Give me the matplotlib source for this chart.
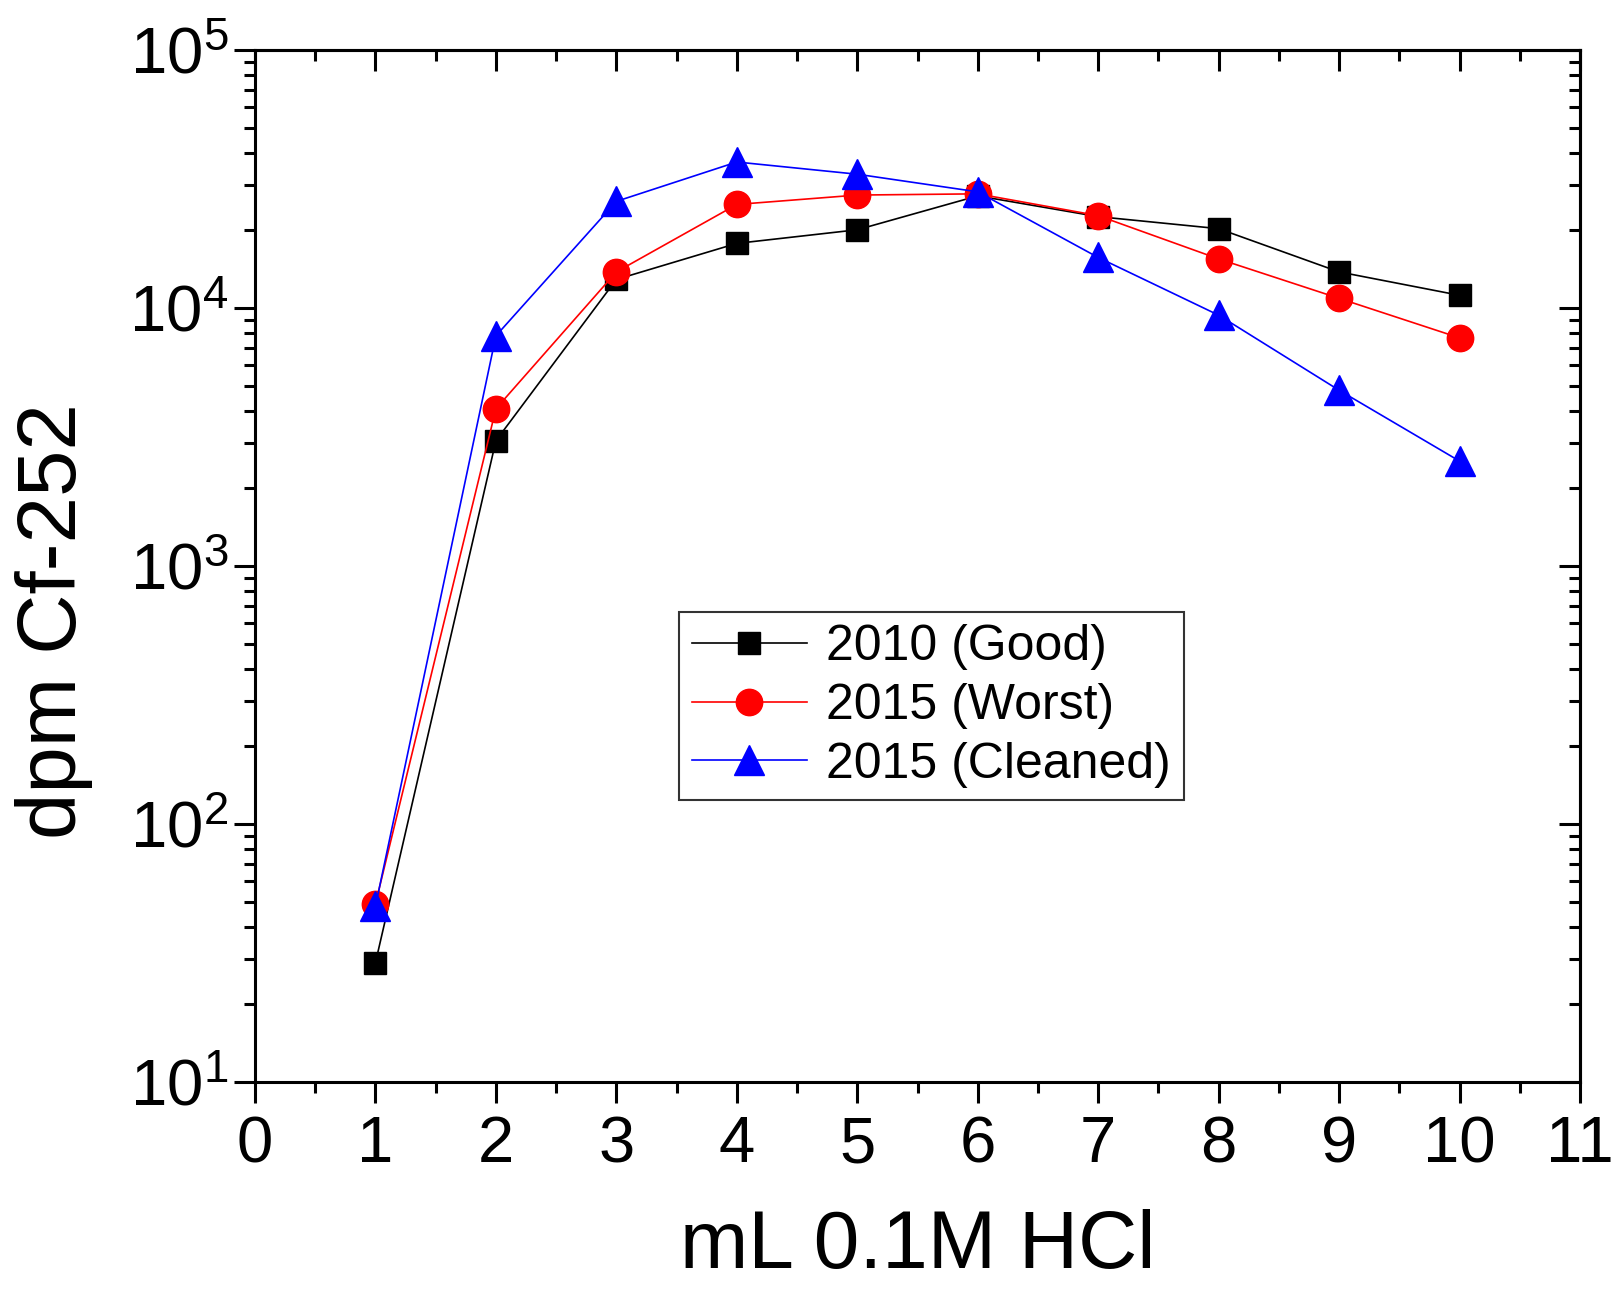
import matplotlib.pyplot as plt
import matplotlib.ticker as mticker
import numpy as np

plt.rcParams['font.family'] = ['Liberation Sans', 'DejaVu Sans']
plt.rcParams['mathtext.fontset'] = 'custom'
plt.rcParams['mathtext.rm'] = 'Liberation Sans'
plt.rcParams['mathtext.it'] = 'Liberation Sans:italic'

# data
ml_hcl = [1, 2, 3, 4, 5, 6, 7, 8, 9, 10]
good_2010 = [29, 3060, 12900, 17800, 20100, 27200, 22600, 20300, 13800, 11200]
worst_2015 = [49, 4070, 13800, 25200, 27400, 27700, 22800, 15500, 10900, 7660]
cleaned_2015 = [48, 7800, 25900, 36800, 33000, 28200, 15700, 9380, 4800, 2550]

fig = plt.figure(figsize=(16.12, 12.91), dpi=100)
ax = fig.add_axes([255 / 1612, 1 - 1082 / 1291, 1325 / 1612, 1032 / 1291])

l1, = ax.plot(ml_hcl, good_2010, color='black', lw=1.2, marker='s', ms=16.5,
              mec='black', mfc='black', label='2010 (Good)')
l2, = ax.plot(ml_hcl, worst_2015, color='red', lw=1.2, marker='o', ms=19,
              mec='red', mfc='red', label='2015 (Worst)')
l3, = ax.plot(ml_hcl, cleaned_2015, color='blue', lw=1.2, marker='^', ms=21,
              mec='blue', mfc='blue', label='2015 (Cleaned)')

ax.set_yscale('log')
ax.set_ylim(10, 1e5)
ax.set_xlim(0, 11)
ax.xaxis.set_major_locator(mticker.MultipleLocator(1))
ax.xaxis.set_minor_locator(mticker.MultipleLocator(0.5))
ax.yaxis.set_major_locator(mticker.LogLocator(base=10, numticks=10))
ax.yaxis.set_minor_locator(mticker.LogLocator(base=10, subs=np.arange(2, 10), numticks=20))
ax.yaxis.set_minor_formatter(mticker.NullFormatter())

for s in ax.spines.values():
    s.set_linewidth(2.2)

ax.tick_params(which='major', direction='out', length=15, width=2.2, labelsize=47)
ax.tick_params(axis='x', which='major', pad=9)
ax.tick_params(axis='y', which='major', pad=4)
ax.tick_params(which='minor', direction='out', length=8, width=2.2)

# top and right: inward ticks, no labels
top = ax.secondary_xaxis('top')
top.xaxis.set_major_locator(mticker.MultipleLocator(1))
top.xaxis.set_minor_locator(mticker.MultipleLocator(0.5))
top.tick_params(which='major', direction='in', length=15, width=2.2, labeltop=False)
top.tick_params(which='minor', direction='in', length=8, width=2.2)
top.spines['top'].set_linewidth(2.2)

right = ax.secondary_yaxis('right')
right.yaxis.set_major_locator(mticker.LogLocator(base=10, numticks=10))
right.yaxis.set_minor_locator(mticker.LogLocator(base=10, subs=np.arange(2, 10), numticks=20))
right.tick_params(which='major', direction='in', length=15, width=2.2, labelright=False)
right.tick_params(which='minor', direction='in', length=8, width=2.2)
right.spines['right'].set_linewidth(2.2)

ax.set_xlabel('mL 0.1M HCl', fontsize=59, labelpad=24)
ax.set_ylabel('dpm Cf-252', fontsize=60)
ax.yaxis.set_label_coords(-0.122, 0.447)

leg = fig.legend(handles=[l1, l2, l3], loc='upper left',
                 bbox_to_anchor=(679 / 1612, 1 - 612 / 1291),
                 fontsize=36, frameon=True, fancybox=False, edgecolor='black',
                 handlelength=2.3, handletextpad=0.4, labelspacing=0.25,
                 borderpad=0.25, borderaxespad=0)
leg.get_frame().set_linewidth(1.5)

fig.savefig('out.png', dpi=100)
